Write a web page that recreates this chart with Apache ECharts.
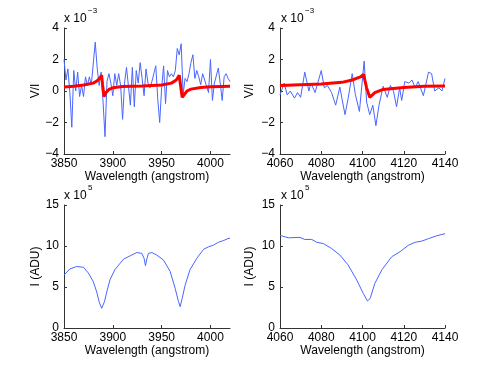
<!DOCTYPE html>
<html>
<head>
<meta charset="utf-8">
<script src="https://cdn.jsdelivr.net/npm/echarts@6/dist/echarts.min.js"></script>
<style>html,body{margin:0;padding:0;background:#fff;}#c{width:491px;height:369px;}</style>
</head>
<body>
<div id="c"></div>
<script>
// ---- Data (V/I in units of 1e-3, I in units of 1e5 ADU) ----
var tlObsX = [3850,3852,3854,3856,3858,3860,3862,3864,3866,3868,3870,3872,3874,3876,3878,3880,3882,3884,3886,3888,3890,3892,3894,3896,3898,3900,3902,3904,3906,3908,3910,3912,3914,3916,3918,3920,3922,3924,3926,3928,3930,3932,3934,3936,3938,3940,3942,3944,3946,3948,3950,3952,3954,3956,3958,3960,3962,3964,3966,3968,3970,3972,3974,3976,3978,3980,3982,3984,3986,3988,3990,3992,3994,3996,3998,4000,4002,4004,4006,4008,4010,4012,4014,4016,4018,4020];
var tlObsY = [2.0,0.7,1.4,-0.1,-2.3,1.3,0.0,1.2,-0.35,0.35,-0.35,0.9,0.35,0.9,0.4,0.35,3.1,1.45,0.35,1.2,-0.7,-2.9,0.6,1.1,0.5,-0.3,1.1,0.35,1.1,0.35,-1.8,0.5,1.5,0.3,-0.9,1.5,-1.0,1.3,0.5,1.8,0.8,-0.3,1.4,0.5,0.2,0.6,1.1,1.6,-0.5,-2.0,0.2,1.6,-0.8,1.3,0.9,1.1,0.9,1.3,2.7,2.3,3.0,-0.2,0.8,0.6,1.1,1.8,2.3,0.8,1.3,0.9,0.4,1.1,1.0,0.3,-0.1,2.0,-0.6,0.5,0.4,1.45,0.5,-0.6,0.9,1.1,0.8,0.6];
var tlFitX = [3850,3860,3870,3880,3884,3887,3888.5,3889.5,3891,3893,3896,3900,3910,3930,3950,3960,3965,3968,3969.5,3971,3973,3976,3980,3990,4000,4020];
var tlFitY = [0.25,0.3,0.38,0.5,0.65,0.85,1.0,0.4,-0.35,-0.1,0.1,0.2,0.28,0.32,0.38,0.5,0.7,1.0,0.3,-0.4,-0.3,0.0,0.12,0.22,0.27,0.3];

var trObsX = [4060,4062,4063.5,4065,4067,4068.5,4070,4072,4074,4075,4077,4080,4081.5,4083,4085,4087,4089,4091.5,4093,4095,4096.5,4098.5,4100.8,4102,4103.5,4105,4106.5,4108,4110,4112,4113.5,4115,4116.5,4118,4119,4120.5,4122.5,4124,4125.5,4127,4129.5,4132,4133.5,4135,4137,4138.5,4140];
var trObsY = [-0.25,0.5,-0.25,0.0,-0.45,-0.1,-0.4,1.2,0.0,0.5,-0.1,1.3,0.2,0.35,-0.1,-0.9,0.25,-1.5,-0.5,1.1,-0.2,-1.3,1.9,-0.7,-1.5,-0.9,-2.2,-0.9,0.3,-0.4,0.35,0.0,-1.0,0.2,-0.6,0.6,0.5,0.7,0.2,0.6,-0.3,1.2,1.1,0.0,0.2,0.0,0.8];
var trFitX = [4060,4070,4080,4090,4095,4099,4100.5,4102,4103.5,4106,4110,4120,4130,4140];
var trFitY = [0.35,0.4,0.45,0.55,0.7,0.9,1.05,0.2,-0.4,-0.1,0.1,0.22,0.3,0.32];

var blX = [3850,3856,3863,3870,3875,3880,3883.5,3886,3888.6,3891.4,3893.8,3897,3902,3911,3917.7,3924.6,3929.7,3932,3933.4,3935,3936.5,3940,3945,3951.8,3958.7,3963.8,3967.3,3969,3971,3974,3979,3986,3993,3998,4003,4008,4013,4018,4020];
var blY = [6.45,7.2,7.5,7.4,6.7,5.65,4.4,3.2,2.4,3.2,4.4,5.85,7.1,8.4,8.8,9.2,9.1,8.5,7.6,8.5,9.1,9.2,8.9,8.3,6.9,4.85,3.2,2.6,3.6,5.2,7.1,8.5,9.6,9.9,10.1,10.45,10.65,10.9,10.95];

var brX = [4060,4064,4069.7,4072,4075.4,4077.8,4081,4085,4089,4093,4097.2,4100.4,4102.4,4103.7,4106,4109.4,4114.2,4118.2,4122.3,4125.5,4128.8,4132,4136,4140];
var brY = [11.3,11.0,11.05,10.8,10.8,10.45,10.3,9.7,8.9,7.7,5.85,4.2,3.3,3.6,5.45,7.1,8.7,9.3,10.1,10.45,10.6,10.9,11.25,11.5];

var xName = 'Wavelength (angstrom)';
var yNameTop = 'V/I';
var yNameBottom = 'I (ADU)';

function zip(xs, ys){ return xs.map(function(x,i){ return [x, ys[i]]; }); }

var FONT = 'Liberation Sans, Arial, Helvetica, sans-serif';
var AX = '#333';
var BLUE = '#4a66ff';
var RED = '#ff0000';

function minusFmt(v){ return v < 0 ? '\u2212' + Math.abs(v) : String(v); }

function xAx(g, min, max, interval){
  return {
    gridIndex: g, type: 'value', min: min, max: max, interval: interval,
    axisLine: {show: true, onZero: false, lineStyle: {color: AX, width: 1}},
    axisTick: {show: true, inside: true, length: 3, lineStyle: {color: AX}},
    axisLabel: {color: '#000', fontSize: 12, fontFamily: FONT, margin: 4, formatter: function(v){ return String(v); }},
    splitLine: {show: false},
    name: xName, nameLocation: 'middle', nameGap: 17,
    nameTextStyle: {color: '#000', fontSize: 12, fontFamily: FONT}
  };
}
function yAx(g, min, max, interval, name, gap){
  return {
    gridIndex: g, type: 'value', min: min, max: max, interval: interval,
    axisLine: {show: true, onZero: false, lineStyle: {color: AX, width: 1}},
    axisTick: {show: true, inside: true, length: 3, lineStyle: {color: AX}},
    axisLabel: {color: '#000', fontSize: 12, fontFamily: FONT, margin: 5, formatter: minusFmt},
    splitLine: {show: false},
    name: name, nameLocation: 'middle', nameGap: gap, nameRotate: 90,
    nameTextStyle: {color: '#000', fontSize: 12, fontFamily: FONT}
  };
}
function line(xi, yi, data, color, width){
  return {type: 'line', xAxisIndex: xi, yAxisIndex: yi, data: data, showSymbol: false, symbol: 'none',
    lineStyle: {color: color, width: width}, itemStyle: {color: color}, silent: true};
}
function expo(x, y, sup){
  return [
    {type: 'text', left: x, top: y, style: {text: 'x 10', fill: '#000', font: '12px ' + FONT}},
    {type: 'text', left: x + 24, top: y - 6, style: {text: sup, fill: '#000', font: '8px ' + FONT}}
  ];
}

var chart = echarts.init(document.getElementById('c'), null, {renderer: 'canvas'});
chart.setOption({
  animation: false,
  backgroundColor: '#fff',
  grid: [
    {left: 64, top: 28, width: 166, height: 126},
    {left: 280, top: 28, width: 165, height: 126},
    {left: 64, top: 205, width: 166, height: 123},
    {left: 280, top: 205, width: 165, height: 123}
  ],
  xAxis: [
    xAx(0, 3850, 4020, 50),
    xAx(1, 4060, 4140, 20),
    xAx(2, 3850, 4020, 50),
    xAx(3, 4060, 4140, 20)
  ],
  yAxis: [
    yAx(0, -4, 4, 2, yNameTop, 21),
    yAx(1, -4, 4, 2, yNameTop, 24),
    yAx(2, 0, 15, 5, yNameBottom, 21),
    yAx(3, 0, 15, 5, yNameBottom, 24)
  ],
  graphic: [].concat(
    expo(64, 13, '\u22123'),
    expo(281, 13, '\u22123'),
    expo(64, 190, '5'),
    expo(281, 190, '5')
  ),
  series: [
    line(0, 0, zip(tlObsX, tlObsY), BLUE, 1),
    line(0, 0, zip(tlFitX, tlFitY), RED, 3),
    line(1, 1, zip(trObsX, trObsY), BLUE, 1),
    line(1, 1, zip(trFitX, trFitY), RED, 3),
    line(2, 2, zip(blX, blY), BLUE, 1),
    line(3, 3, zip(brX, brY), BLUE, 1)
  ]
});
</script>
</body>
</html>
